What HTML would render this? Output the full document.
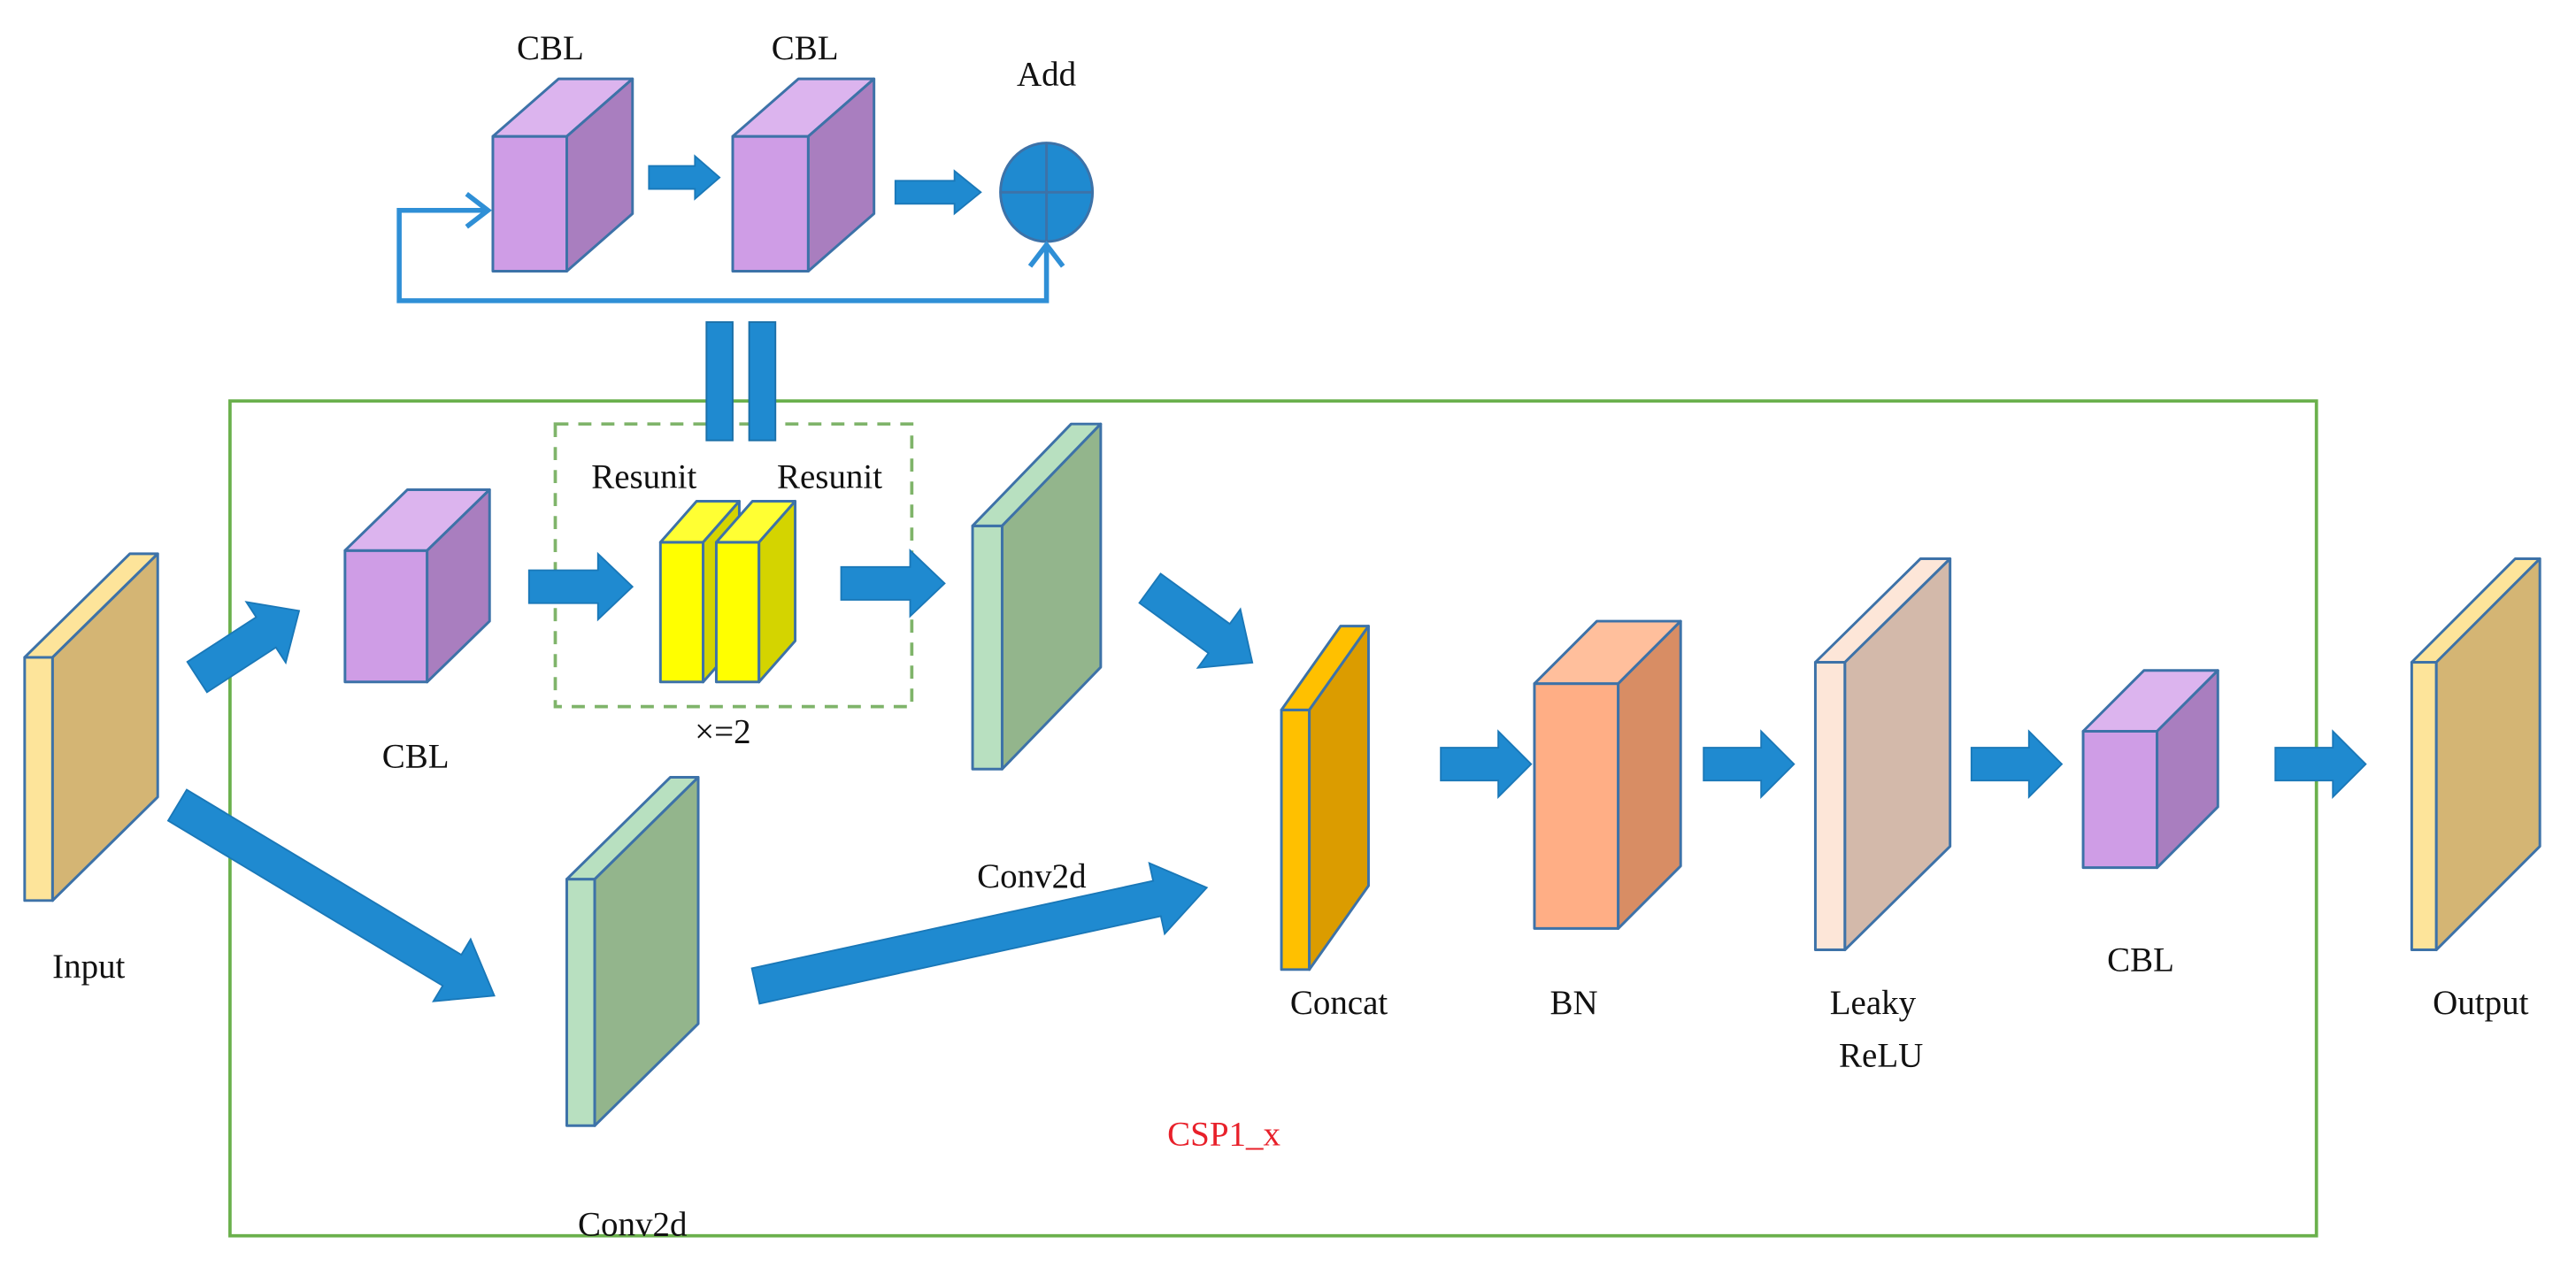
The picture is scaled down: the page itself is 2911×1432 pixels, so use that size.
<!DOCTYPE html>
<html><head><meta charset="utf-8"><style>
html,body{margin:0;padding:0;background:#fff;}
svg{display:block;}
text{font-family:"Liberation Serif",serif;font-size:21px;fill:#111;text-anchor:middle;}
</style></head><body>
<svg width="2911" height="1432" viewBox="0 0 1568 771" preserveAspectRatio="none" xmlns="http://www.w3.org/2000/svg">
<g stroke="#3d72a8" stroke-width="1.6" stroke-linejoin="round">
<!-- top CBL1 -->
<rect x="300" y="83" width="45" height="82" fill="#cf9de6"/>
<polygon points="300,83 340,48 385,48 345,83" fill="#dcb4ee"/>
<polygon points="345,83 385,48 385,130 345,165" fill="#a97ebf"/>
<!-- top CBL2 -->
<rect x="446" y="83" width="46" height="82" fill="#cf9de6"/>
<polygon points="446,83 486,48 532,48 492,83" fill="#dcb4ee"/>
<polygon points="492,83 532,48 532,130 492,165" fill="#a97ebf"/>
<!-- main CBL -->
<rect x="210" y="335" width="50" height="80" fill="#cf9de6"/>
<polygon points="210,335 248,298 298,298 260,335" fill="#dcb4ee"/>
<polygon points="260,335 298,298 298,378 260,415" fill="#a97ebf"/>
<!-- yellow -->
<rect x="402" y="330" width="26" height="85" fill="#ffff00"/>
<polygon points="402,330 424,305 450,305 428,330" fill="#ffff33"/>
<polygon points="428,330 450,305 450,390 428,415" fill="#d4d400"/>
<rect x="436" y="330" width="26" height="85" fill="#ffff00"/>
<polygon points="436,330 458,305 484,305 462,330" fill="#ffff33"/>
<polygon points="462,330 484,305 484,390 462,415" fill="#d4d400"/>
<!-- input -->
<rect x="15" y="400" width="17" height="148" fill="#fde49a"/>
<polygon points="15,400 79,337 96,337 32,400" fill="#fde49a"/>
<polygon points="32,400 96,337 96,485 32,548" fill="#d4b574"/>
<!-- conv up -->
<rect x="592" y="320" width="18" height="148" fill="#b8e0c0"/>
<polygon points="592,320 652,258 670,258 610,320" fill="#b8e0c0"/>
<polygon points="610,320 670,258 670,406 610,468" fill="#93b58c"/>
<!-- conv low -->
<rect x="345" y="535" width="17" height="150" fill="#b8e0c0"/>
<polygon points="345,535 408,473 425,473 362,535" fill="#b8e0c0"/>
<polygon points="362,535 425,473 425,623 362,685" fill="#93b58c"/>
<!-- concat -->
<rect x="780" y="432" width="17" height="158" fill="#ffc000"/>
<polygon points="780,432 816,381 833,381 797,432" fill="#ffc000"/>
<polygon points="797,432 833,381 833,539 797,590" fill="#db9c00"/>
<!-- BN -->
<rect x="934" y="416" width="51" height="149" fill="#ffae85"/>
<polygon points="934,416 972,378 1023,378 985,416" fill="#ffbf9c"/>
<polygon points="985,416 1023,378 1023,527 985,565" fill="#d88d64"/>
<!-- leaky -->
<rect x="1105" y="403" width="18" height="175" fill="#fde6d8"/>
<polygon points="1105,403 1169,340 1187,340 1123,403" fill="#fde6d8"/>
<polygon points="1123,403 1187,340 1187,515 1123,578" fill="#d3b9aa"/>
<!-- CBL right -->
<rect x="1268" y="445" width="45" height="83" fill="#cf9de6"/>
<polygon points="1268,445 1305,408 1350,408 1313,445" fill="#dcb4ee"/>
<polygon points="1313,445 1350,408 1350,491 1313,528" fill="#a97ebf"/>
<!-- output -->
<rect x="1468" y="403" width="15" height="175" fill="#fde49a"/>
<polygon points="1468,403 1531,340 1546,340 1483,403" fill="#fde49a"/>
<polygon points="1483,403 1546,340 1546,515 1483,578" fill="#d4b574"/>
<!-- add -->
<ellipse cx="637" cy="117" rx="28" ry="30" fill="#1f8ad0"/>
<line x1="609" y1="117" x2="665" y2="117"/>
<line x1="637" y1="87" x2="637" y2="147"/>
</g>
<!-- frames -->
<rect x="140" y="244" width="1270" height="508" fill="none" stroke="#6ab04c" stroke-width="2"/>
<rect x="338" y="258" width="217" height="172" fill="none" stroke="#7fb46a" stroke-width="2" stroke-dasharray="8,6"/>
<!-- feedback -->
<g fill="none" stroke="#2f8fd6" stroke-width="3">
<polyline points="637,150 637,183 243,183 243,128 296,128"/>
<polyline points="284,118 297,128 284,138"/>
<polyline points="627,162 637,149 647,162"/>
</g>
<!-- bars -->
<rect x="430" y="196" width="16" height="72" fill="#1f8ad0" stroke="#1a6fa8"/>
<rect x="456" y="196" width="16" height="72" fill="#1f8ad0" stroke="#1a6fa8"/>
<!-- arrows -->
<g fill="#1f8ad0" stroke="#1a78b8" stroke-width="1">
<polygon transform="translate(395,108)" points="0,-7 28,-7 28,-13 43,0 28,13 28,7 0,7"/>
<polygon transform="translate(545,117)" points="0,-7 36,-7 36,-13 52,0 36,13 36,7 0,7"/>
<polygon transform="translate(322,357)" points="0,-10 42,-10 42,-20 63,0 42,20 42,10 0,10"/>
<polygon transform="translate(512,355)" points="0,-10 42,-10 42,-20 63,0 42,20 42,10 0,10"/>
<polygon transform="translate(877,465)" points="0,-10 35,-10 35,-20 55,0 35,20 35,10 0,10"/>
<polygon transform="translate(1037,465)" points="0,-10 35,-10 35,-20 55,0 35,20 35,10 0,10"/>
<polygon transform="translate(1200,465)" points="0,-10 35,-10 35,-20 55,0 35,20 35,10 0,10"/>
<polygon transform="translate(1385,465)" points="0,-10 35,-10 35,-20 55,0 35,20 35,10 0,10"/>
<polygon transform="translate(120,412) rotate(-33)" points="0,-11 50,-11 50,-22 74,0 50,22 50,11 0,11"/>
<polygon transform="translate(108,490) rotate(31)" points="0,-11 195,-11 195,-22 225,0 195,22 195,11 0,11"/>
<polygon transform="translate(700,358) rotate(36)" points="0,-11 52,-11 52,-22 77,0 52,22 52,11 0,11"/>
<polygon transform="translate(460,600) rotate(-12.3)" points="0,-11 250,-11 250,-22 281,0 250,22 250,11 0,11"/>
</g>
<!-- labels -->
<text x="335" y="36">CBL</text>
<text x="490" y="36">CBL</text>
<text x="637" y="52">Add</text>
<text x="392" y="297">Resunit</text>
<text x="505" y="297">Resunit</text>
<text x="440" y="452">×=2</text>
<text x="253" y="467">CBL</text>
<text x="54" y="595">Input</text>
<text x="628" y="540">Conv2d</text>
<text x="385" y="752">Conv2d</text>
<text x="815" y="617">Concat</text>
<text x="958" y="617">BN</text>
<text x="1140" y="617">Leaky</text>
<text x="1145" y="649">ReLU</text>
<text x="1303" y="591">CBL</text>
<text x="1510" y="617">Output</text>
<text x="745" y="697" style="fill:#e8202a">CSP1_x</text>
</svg>
</body></html>
